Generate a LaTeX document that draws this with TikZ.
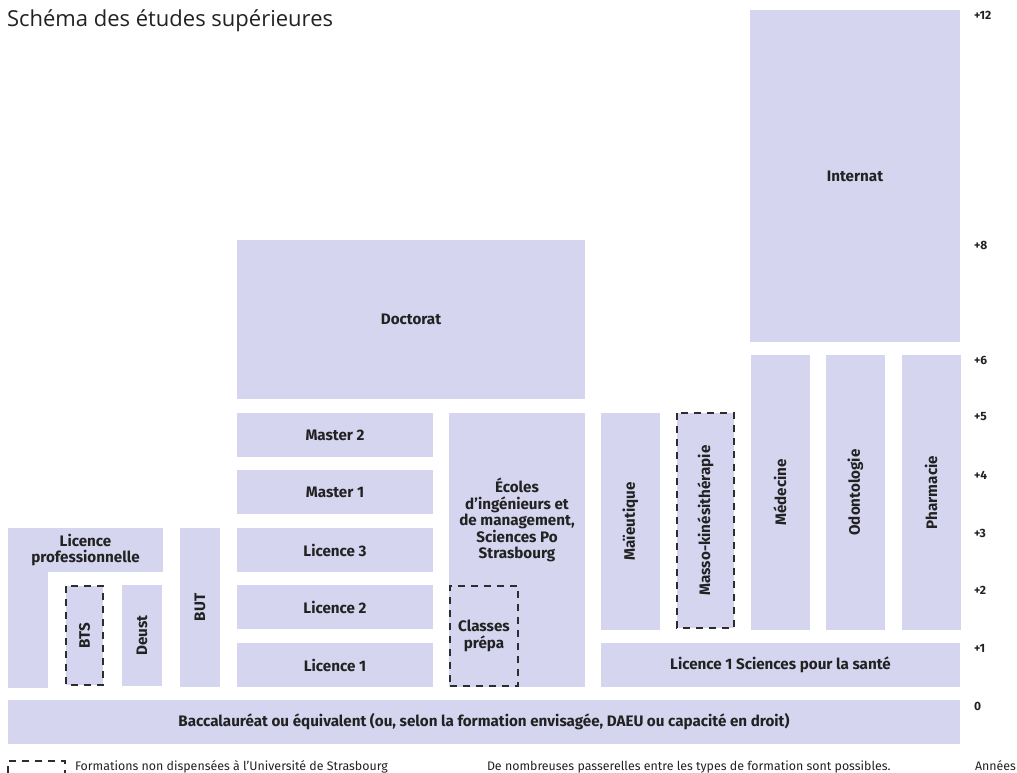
\documentclass[tikz,border=0pt]{standalone}
\usepackage{fontspec}
\setmainfont{Fira Sans}
\newfontfamily\titrefont{Open Sans}
\definecolor{lavande}{RGB}{213,213,240}
\definecolor{tiret}{RGB}{45,45,45}
\definecolor{encre}{RGB}{34,34,34}

\begin{document}
\begin{tikzpicture}
  [x=1pt,y=-1pt,
   every node/.style={inner sep=0pt,outer sep=0pt,align=center,text=encre,
                      font=\fontsize{15.2}{16.5}\selectfont\bfseries},
   taille/.style 2 args={minimum width=#1pt,minimum height=#2pt},
   bloc/.style={fill=lavande},
   horsunistra/.style={draw=tiret,line width=1.6pt,dash pattern=on 7pt off 6pt},
   annee/.style={anchor=west,font=\fontsize{12}{14}\selectfont\bfseries},
   legende/.style={anchor=base west,font=\fontsize{12.4}{14}\selectfont}]
  \useasboundingbox (0,0) rectangle (1017,772);

  \node[anchor=base west,font=\titrefont\fontsize{22}{26}\selectfont] (titre) at (7,26) {Schéma des études supérieures};

  % socle
  \node[bloc,taille={952}{44}] (bac) at (484,722)
    {Baccalauréat ou équivalent (ou, selon la formation envisagée, DAEU ou capacité en droit)};

  % filiere universitaire
  \foreach \nom/\y/\texte in {l1/665/Licence 1,l2/607/Licence 2,l3/550/Licence 3,m1/492/Master 1,m2/435/Master 2}
    \node[bloc,taille={196}{44}] (\nom) at (335,\y) {\texte};
  \node[bloc,taille={348}{159}] (doctorat) at (411,319.5) {Doctorat};

  % filieres courtes
  \node[bloc,taille={155}{44}] (lpro) at (85.5,550) {Licence\\professionnelle};
  \node[bloc,taille={40}{116}] (lprobas) at (28,629.5) {};
  \node[bloc,horsunistra,rotate=90,taille={99}{37}] (bts) at (84.5,635.5) {BTS};
  \node[bloc,rotate=90,taille={101}{40}] (deust) at (142,635.5) {Deust};
  \node[bloc,rotate=90,taille={159}{40}] (but) at (200,607.5) {BUT};

  % ecoles
  \node[bloc,taille={136}{274}] (ecoles) at (517,550) {};
  \node (ecolestexte) at (517,520) {Écoles\\d’ingénieurs et\\de management,\\Sciences Po\\Strasbourg};
  \node[bloc,horsunistra,taille={68}{100}] (prepa) at (484,636) {Classes\\prépa};

  % sante
  \node[bloc,taille={359}{44}] (l1sante) at (780.5,665) {Licence 1 Sciences pour la santé};
  \node[bloc,rotate=90,taille={217}{59}] (maieutique) at (630.5,521.5) {Maïeutique};
  \node[bloc,horsunistra,rotate=90,taille={215}{57}] (masso) at (705.5,520.5) {Masso-kinésithérapie};
  \foreach \nom/\x/\texte in {medecine/780/Médecine,odonto/855.5/Odontologie,pharma/931/Pharmacie}
    \node[bloc,rotate=90,taille={275}{59}] (\nom) at (\x,492.5) {\texte};
  \node[bloc,taille={210}{332}] (internat) at (855,176) {Internat};

  % annees
  \foreach \y/\an in {15/+12,245/+8,360/+6,417/+5,475/+4,533/+3,590/+2,648/+1,706/0}
    \node[annee] (an\y) at (974,\y) {\an};

  % legende
  \node[horsunistra,taille={57}{24}] (cle) at (36.5,773) {};
  \node[legende] (cletexte) at (75,770.5) {Formations non dispensées à l’Université de Strasbourg};
  \node[legende] (passerelles) at (487,770.5) {De nombreuses passerelles entre les types de formation sont possibles.};
  \node[legende] (annees) at (975,770.5) {Années};
\end{tikzpicture}
\end{document}
